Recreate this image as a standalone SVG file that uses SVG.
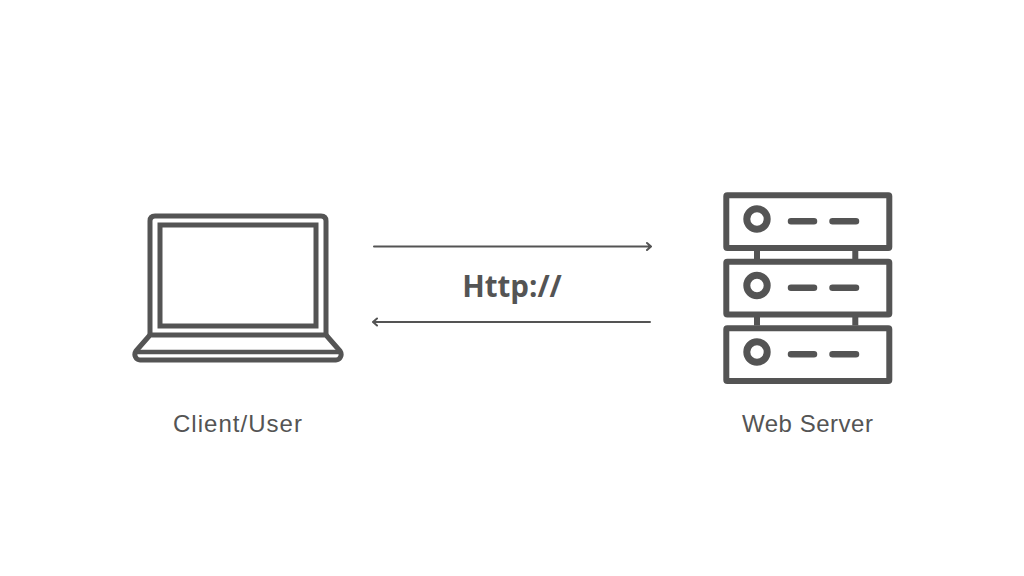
<svg xmlns="http://www.w3.org/2000/svg" width="1024" height="576" viewBox="0 0 1024 576">
<style>
.ln{fill:none;stroke:#545454;stroke-linejoin:round}
.cap{stroke-linecap:round}
.lbl{font-family:"Liberation Sans",Arial,sans-serif;font-size:24px;fill:#545454;text-anchor:middle}
.hd{font-family:"Open Sans","Liberation Sans",sans-serif;font-size:29.500px;font-weight:700;fill:#545454;text-anchor:middle}
</style>
<defs>
<g id="unit">
<rect class="ln" x="726.3" y="195.3" width="163" height="52.6" rx="1" stroke-width="6"/>
<circle class="ln" cx="757" cy="219" r="10.2" stroke-width="7"/>
<path class="ln cap" d="M791 221.3H814M832.5 221.3H856" stroke-width="6.5"/>
</g>
</defs>
<rect width="1024" height="576" fill="#fff"/>
<g id="client">
<path class="ln" d="M150 335V221Q150 216 155 216H321Q326 216 326 221V335" stroke-width="5"/>
<rect class="ln" x="160" y="225" width="156" height="101" stroke-width="5" style="stroke-linejoin:miter"/>
<path class="ln" d="M150 335H326L340 351Q342 354 340.500 357Q339 360 336 360H140Q137 360 135.500 357Q134 354 136 351Z" stroke-width="5"/>
<path class="ln" d="M136 352H340" stroke-width="4.500"/>
<text class="lbl" x="237.500" y="432" textLength="129" lengthAdjust="spacing">Client/User</text>
</g>
<g id="server">
<use href="#unit"/>
<use href="#unit" y="66.500"/>
<use href="#unit" y="133"/>
<path class="ln" d="M757 250V259M855.300 250V259M757 316.500V325.500M855.300 316.500V325.500" stroke-width="6"/>
<text class="lbl" x="807.500" y="432" textLength="131" lengthAdjust="spacing">Web Server</text>
</g>
<g id="protocol">
<text class="hd" x="512" y="296.500">Http://</text>
</g>
<g id="connectors">
<path class="ln cap" d="M374 246.500H650M647 243L651 246.500L647 250" stroke-width="2"/>
<path class="ln cap" d="M650 322H374M377 318.500L373 322L377 325.500" stroke-width="2"/>
</g>
</svg>
